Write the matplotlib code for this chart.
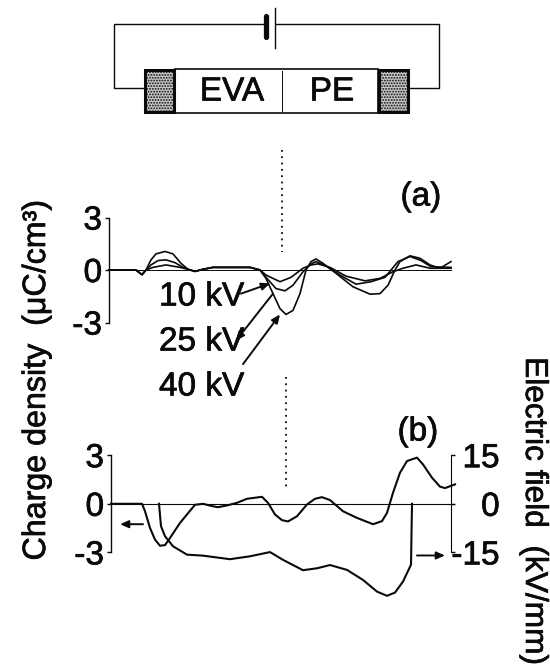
import matplotlib
matplotlib.use("Agg")
import matplotlib.pyplot as plt
import matplotlib.patheffects as pe
from matplotlib.patches import Rectangle
from matplotlib.text import Text

plt.rcParams['font.family'] = ['Liberation Sans', 'DejaVu Sans']
plt.rcParams['hatch.linewidth'] = 0.9

W, H = 550, 671
INK = '#0a0a0a'

# panel (a): charge density, depth in arbitrary units
x_40 = [0, 27, 33, 37, 42, 47, 56, 64, 72, 79, 86, 94, 104, 121, 141, 151, 157, 164, 171, 177, 184, 191, 197, 202, 207, 214, 227, 244, 261, 271, 279, 286, 291, 301, 311, 321, 331, 342]
q_40 = [0, 0, -.27, 0, .58, .92, 1.06, .92, .38, .04, -.08, .04, .15, .15, .15, 0, -.48, -1.35, -2.21, -2.54, -2.31, -1.35, 0, .48, .63, .38, -.19, -.96, -1.38, -1.35, -.87, 0, .48, .81, .67, .29, .1, .48]
x_25 = [0, 27, 33, 37, 42, 49, 57, 66, 74, 79, 86, 94, 104, 141, 151, 157, 167, 176, 184, 194, 202, 207, 217, 231, 247, 262, 276, 282, 289, 301, 312, 322, 342]
q_25 = [0, 0, -.27, 0, .29, .54, .58, .42, .15, .04, -.08, .04, .15, .15, 0, -.42, -1.06, -1.19, -.87, -.1, .35, .48, .23, -.29, -.81, -.67, -.42, 0, .48, .77, .54, .19, .15]
x_10 = [0, 27, 33, 37, 44, 57, 71, 79, 86, 94, 104, 141, 151, 157, 171, 182, 194, 202, 209, 221, 237, 256, 271, 284, 294, 307, 321, 342]
q_10 = [0, 0, -.27, 0, .15, .29, .15, .04, -.08, .04, .15, .15, 0, -.29, -.67, -.42, .1, .29, .35, .15, -.35, -.62, -.48, -.1, .1, .29, .1, .1]

# panel (b): charge density (left) and electric field (right)
x_q = [0, 31, 34, 39, 44, 49, 54, 59, 69, 84, 92, 101, 107, 116, 126, 136, 151, 157, 164, 171, 177, 186, 196, 204, 211, 219, 232, 246, 262, 271, 276, 282, 289, 296, 306, 312, 321, 329, 334, 344]
q_b = [0, 0, -.46, -1.49, -2.21, -2.59, -2.55, -2.11, -1.18, -.06, 0, -.14, -.21, -.1, .06, .31, .43, .06, -.66, -1.01, -1.09, -.77, -.04, .31, .41, .23, -.46, -.87, -1.26, -1.07, -.56, .68, 1.92, 2.64, 2.85, 2.43, 1.61, 1.06, .97, 1.2]
x_e = [48, 50, 54, 62, 76, 92, 119, 139, 159, 172, 192, 206, 219, 236, 252, 266, 276, 284, 292, 300, 301]
e_b = [0, -6.9, -10, -13.1, -15.7, -16, -17.1, -16.2, -14.9, -17.3, -20.5, -19.9, -18.9, -20.4, -23.5, -27.1, -28.4, -27.4, -24, -18.8, 0]

fig = plt.figure(figsize=(W / 100, H / 100), dpi=100)


def make_axes(left, right, top, bottom):
    return fig.add_axes([left / W, 1 - bottom / H, (right - left) / W, (bottom - top) / H])


def style_left(ax):
    for s in ['top', 'right', 'bottom']:
        ax.spines[s].set_visible(False)
    ax.spines['left'].set_bounds(-3, 3)
    ax.spines['left'].set_linewidth(1.0)
    ax.spines['left'].set_color(INK)
    ax.set_yticks([-3, 0, 3], ['-3', '0', '3'], fontsize=24, color=INK)
    ax.tick_params(axis='y', length=3, width=1, pad=2, color=INK)
    ax.set_xticks([])
    ax.patch.set_alpha(0)


def arrow(ax, start, end, lw=1.4):
    ax.annotate('', xy=end, xytext=start, annotation_clip=False,
                arrowprops=dict(arrowstyle='-|>,head_length=0.5,head_width=0.22', lw=lw, color=INK, shrinkA=0, shrinkB=0))


# panel a
ax = make_axes(109, 452, 200, 340)
ax.set_xlim(0, 343)
ax.set_ylim(-4, 4)
style_left(ax)
ax.axhline(0, color=INK, lw=0.7)
ax.plot(x_40, q_40, color=INK, lw=1.2, clip_on=False)
ax.plot(x_25, q_25, color=INK, lw=1.2, clip_on=False)
ax.plot(x_10, q_10, color=INK, lw=1.2, clip_on=False)
ax.plot([173, 173], [6.86, 1.03], color=INK, lw=1.3, ls=(0, (1, 2.5)), clip_on=False)
arrow(ax, (132, -1.35), (161, -.77))
arrow(ax, (164, -1.35), (127, -4.04))
arrow(ax, (134, -5.38), (171, -2.54))

# panel b
axb = make_axes(111, 455, 439, 601)
axb.set_xlim(0, 344)
axb.set_ylim(-6, 4)
style_left(axb)
axb.axhline(0, color=INK, lw=0.8)
axb.plot(x_q, q_b, color=INK, lw=1.5, clip_on=False)
axb.plot([175, 175], [7.8, 1.05], color=INK, lw=1.3, ls=(0, (1, 2.5)), clip_on=False)
arrow(axb, (32, -1.26), (9, -1.26))
arrow(axb, (306, -3.19), (334, -3.19))

ax2 = axb.twinx()
ax2.set_ylim(-30, 20)
for s in ['top', 'left', 'bottom']:
    ax2.spines[s].set_visible(False)
ax2.spines['right'].set_position(('data', 340))
ax2.spines['right'].set_bounds(-15, 15)
ax2.spines['right'].set_color(INK)
ax2.set_yticks([-15, 0, 15], ['-15', '0', '15'], fontsize=24, color=INK, ha='right')
ax2.tick_params(axis='y', length=3, width=1, pad=32, color=INK)
ax2.plot(x_e, e_b, color=INK, lw=1.5, clip_on=False)

# schematic and free text, in picture pixels
ov = fig.add_axes([0, 0, 1, 1])
ov.set_xlim(0, W)
ov.set_ylim(H, 0)
ov.axis('off')
ov.patch.set_alpha(0)

ov.plot([266, 114, 114, 144], [24, 24, 88, 88], color=INK, lw=1.0)
ov.plot([276, 439, 439, 408], [24, 24, 88, 88], color=INK, lw=1.0)
ov.plot([266, 266], [16, 37], color=INK, lw=3.8, solid_capstyle='round')
ov.plot([275, 275], [8, 48], color=INK, lw=1.0)
ov.add_patch(Rectangle((175, 69), 203, 44, fc='white', ec=INK, lw=1.2))
ov.plot([282, 282], [71, 111], color=INK, lw=0.7)
for ex in [145, 379]:
    ov.add_patch(Rectangle((ex, 70), 29, 42, fc='#c8c8c8', ec=INK, lw=2.2, hatch='......'))
ov.text(232, 92, 'EVA', fontsize=24, ha='center', va='center', color=INK)
ov.text(332, 92, 'PE', fontsize=24, ha='center', va='center', color=INK)

ov.text(421, 197, '(a)', fontsize=24, ha='center', va='center', color=INK)
ov.text(418, 432, '(b)', fontsize=24, ha='center', va='center', color=INK)
for label, y in [('10 kV', 297), ('25 kV', 342), ('40 kV', 387)]:
    ov.text(159, y, label, fontsize=24, ha='left', va='center', color=INK)
ov.text(37, 380, 'Charge density  (μC/cm³)', fontsize=23.2, rotation=90, ha='center', va='center', color=INK)
ov.text(534, 511, 'Electric field  (kV/mm)', fontsize=22.8, rotation=270, ha='center', va='center', color=INK)

# scanned print looks a bit heavier than the plain font
for t in fig.findobj(Text):
    t.set_path_effects([pe.withStroke(linewidth=0.5, foreground=INK)])

fig.savefig('out.png', dpi=100)
